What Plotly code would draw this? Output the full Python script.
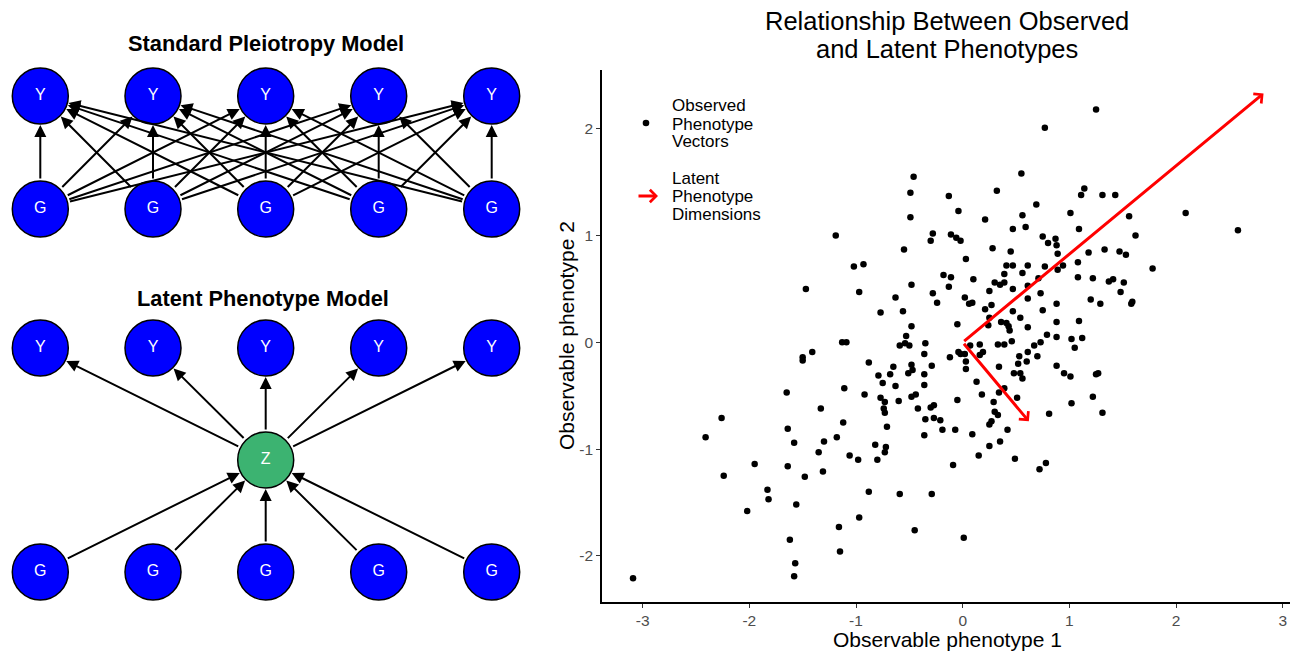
import plotly.graph_objects as go

# ---------------- data ----------------
obs_x = [
    -1.19, -0.46, -0.49, -0.49, -0.13, -0.04, 0.32, 0.55, 0.77, 0.69,
    0.56, 0.21, 0.47, 0.59, -0.28, -0.30, -0.11, -0.06, -0.02, -0.55,
    0.28, 0.45, 0.75, 0.80, 0.87, 0.88, 0.89, 1.25, 1.14, 1.11,
    1.31, 1.43, 1.01, 1.56, 2.09, 1.09, 1.62, 2.58, 1.33, 1.18,
    1.47, 1.53, -1.02, -0.93, 0.03, 0.41, 0.47, 0.61, 0.77, 0.89,
    -0.18, -0.11, 0.10, 0.39, 0.56, 0.71, 0.30, 0.39, 0.35, -0.48,
    -0.13, 0.47, 0.61, -0.97, -0.28, 0.25, -0.63, 0.02, 0.06, 0.09,
    -0.24, 0.61, 0.73, 0.27, 0.21, 0.47, 0.54, 0.75, 0.88, -0.77,
    -0.56, 0.25, 0.24, -0.05, 0.36, 0.41, 0.43, 0.44, 0.61, 0.88,
    -0.48, -0.53, 0.79, 0.88, -1.13, -1.09, -0.59, -0.54, -0.50, -0.35,
    0.07, 0.16, 0.33, 0.39, 0.46, 0.73, 0.67, -0.36, -0.04, -0.02,
    0.02, 0.19, 0.16, -0.12, 0.61, 0.53, 0.70, 0.60, 0.03, -0.88,
    -0.48, -0.29, 0.52, 0.34, 0.88, -0.65, -0.47, 0.03, -0.51, -0.68,
    -0.79, -0.36, 0.48, 0.54, 0.56, -0.75, -0.63, -0.36, 0.13, -1.11,
    0.39, 0.34, -0.92, -0.77, -0.73, -0.60, -0.48, -0.44, 0.18, 0.51,
    -0.05, 0.29, -0.74, -0.73, -0.42, -0.30, -0.27, 0.30, 0.33, 0.81,
    -1.12, -0.71, -0.35, -0.27, -0.21, 0.27, 0.25, -0.19, -0.07, 0.42,
    -1.47, -1.41, -1.50, -1.50, -1.65, -1.33, -2.26, -1.64, 0.94, 1.08,
    1.78, 1.08, 1.22, 1.37, 1.41, 1.51, 1.48, 1.20, 1.29, 1.59,
    1.58, 1.09, 1.02, 1.12, 1.05, 0.95, 1.01, 1.25, 1.27, 1.22,
    1.02, 1.31, -2.41, -1.58, -1.30, -1.35, -1.95, -1.64, -2.24, -1.48,
    -1.31, -1.83, -1.82, -1.56, -2.02, -1.62, -1.57, -1.58, -3.09, -1.18,
    -0.36, 0.09, -0.82, -0.72, -0.73, -1.06, -0.98, -0.80, -0.09, 0.15,
    0.25, 0.35, 0.49, 0.72, 0.78, -0.88, -0.59, -0.29, -0.97, -1.16,
    -0.45, 0.01, -1.15,
]
obs_y = [
    1.00, 1.55, 1.40, 1.17, 1.37, 1.23, 1.42, 1.58, 2.01, 1.29,
    1.19, 1.15, 1.06, 1.08, 1.02, 0.95, 1.01, 0.98, 0.95, 0.87,
    0.88, 0.85, 0.99, 0.93, 0.97, 0.91, 0.83, 2.18, 1.44, 1.38,
    1.38, 1.38, 1.21, 1.18, 1.21, 1.06, 1.00, 1.05, 0.87, 0.84,
    0.85, 0.82, 0.71, 0.73, 0.78, 0.72, 0.72, 0.72, 0.71, 0.68,
    0.63, 0.61, 0.59, 0.64, 0.65, 0.60, 0.56, 0.56, 0.54, 0.54,
    0.52, 0.50, 0.53, 0.47, 0.46, 0.48, 0.42, 0.42, 0.36, 0.37,
    0.37, 0.41, 0.46, 0.35, 0.31, 0.29, 0.23, 0.30, 0.36, 0.28,
    0.29, 0.23, 0.16, 0.17, 0.19, 0.18, 0.15, 0.11, 0.14, 0.19,
    0.15, 0.06, 0.07, 0.05, 0.00, 0.00, -0.03, -0.01, -0.03, -0.01,
    -0.03, -0.02, -0.02, -0.02, 0.01, 0.00, -0.03, -0.11, -0.09, -0.11,
    -0.11, -0.09, -0.12, -0.14, -0.09, -0.13, -0.13, -0.18, -0.18, -0.19,
    -0.21, -0.22, -0.20, -0.23, -0.22, -0.23, -0.26, -0.25, -0.29, -0.30,
    -0.31, -0.30, -0.29, -0.29, -0.34, -0.38, -0.41, -0.40, -0.37, -0.43,
    -0.43, -0.47, -0.49, -0.52, -0.56, -0.55, -0.51, -0.49, -0.49, -0.52,
    -0.54, -0.56, -0.62, -0.66, -0.62, -0.61, -0.59, -0.65, -0.68, -0.67,
    -0.75, -0.79, -0.72, -0.71, -0.73, -0.74, -0.77, -0.82, -0.82, -0.82,
    0.50, -0.09, -0.14, -0.17, -0.47, -0.62, -0.71, -0.81, 0.72, 0.75,
    0.69, 0.61, 0.60, 0.57, 0.59, 0.56, 0.47, 0.40, 0.36, 0.38,
    0.36, 0.20, 0.03, 0.04, -0.05, -0.29, -0.32, -0.30, -0.29, -0.51,
    -0.57, -0.66, -0.89, -0.94, -0.93, -1.03, -1.14, -1.16, -1.25, -1.26,
    -1.21, -1.38, -1.47, -1.52, -1.58, -1.85, -2.07, -2.19, -2.21, -0.89,
    -0.87, -0.86, -0.96, -0.98, -1.03, -1.06, -1.10, -1.10, -1.15, -1.06,
    -0.97, -0.93, -1.09, -1.19, -1.13, -1.40, -1.42, -1.42, -1.64, -1.73,
    -1.76, -1.83, -1.96,
]
latent_dim_x = [2.82, 0.62]
latent_dim_y = [2.33, -0.74]
x_ticks = [-3, -2, -1, 0, 1, 2, 3]
x_tick_labels = ["-3", "-2", "-1", "0", "1", "2", "3"]
y_ticks = [-2, -1, 0, 1, 2]
y_tick_labels = ["-2", "-1", "0", "1", "2"]

# diagram layout (left panel, pixel-like units)
node_cols = [40.3, 153.0, 265.7, 378.7, 491.7]
std_rows = {"Y": 96, "G": 209}
lat_rows = {"Y": 348, "G": 572}
z_node = (265.7, 460)
R = 28

FONT = "Arial, Liberation Sans, sans-serif"
W, H = 1290, 652

fig = go.Figure()

# ---------------- left: network diagrams ----------------
def node_trace(xs, ys, labels, color):
    return go.Scatter(
        x=xs, y=ys, mode="markers+text", text=labels,
        textposition="middle center",
        textfont=dict(family=FONT, size=16, color="white"),
        marker=dict(size=2 * R, color=color, line=dict(color="black", width=1.5)),
        xaxis="x2", yaxis="y2", hoverinfo="skip", showlegend=False, cliponaxis=False,
    )

def edge(x0, y0, x1, y1):
    fig.add_annotation(
        x=x1, y=y1, ax=x0, ay=y0, xref="x2", yref="y2", axref="x2", ayref="y2",
        text="", showarrow=True, arrowhead=2, arrowsize=1.2, arrowwidth=2,
        arrowcolor="black", standoff=R + 1, startstandoff=R + 1,
    )

# standard pleiotropy: every G -> every Y
for gx in node_cols:
    for yx in node_cols:
        edge(gx, std_rows["G"], yx, std_rows["Y"])
# latent model: G -> Z -> Y
for gx in node_cols:
    edge(gx, lat_rows["G"], z_node[0], z_node[1])
for yx in node_cols:
    edge(z_node[0], z_node[1], yx, lat_rows["Y"])

fig.add_trace(node_trace(node_cols, [std_rows["Y"]] * 5, ["Y"] * 5, "#0000FF"))
fig.add_trace(node_trace(node_cols, [std_rows["G"]] * 5, ["G"] * 5, "#0000FF"))
fig.add_trace(node_trace(node_cols, [lat_rows["Y"]] * 5, ["Y"] * 5, "#0000FF"))
fig.add_trace(node_trace(node_cols, [lat_rows["G"]] * 5, ["G"] * 5, "#0000FF"))
fig.add_trace(node_trace([z_node[0]], [z_node[1]], ["Z"], "#3CB371"))

fig.add_annotation(x=265.7, y=43, xref="x2", yref="y2", text="<b>Standard Pleiotropy Model</b>",
                   showarrow=False, xanchor="center", yanchor="middle",
                   font=dict(family=FONT, size=21.8, color="black"))
fig.add_annotation(x=262.5, y=298, xref="x2", yref="y2", text="<b>Latent Phenotype Model</b>",
                   showarrow=False, xanchor="center", yanchor="middle",
                   font=dict(family=FONT, size=21.8, color="black"))

# ---------------- right: scatter ----------------
fig.add_trace(go.Scatter(
    x=obs_x, y=obs_y, mode="markers",
    marker=dict(size=6.5, color="black"),
    xaxis="x", yaxis="y", showlegend=False, hoverinfo="skip",
))
for ex, ey in zip(latent_dim_x, latent_dim_y):
    fig.add_annotation(
        x=ex, y=ey, ax=0, ay=0, xref="x", yref="y", axref="x", ayref="y",
        text="", showarrow=True, arrowhead=4, arrowsize=0.8, arrowwidth=3,
        arrowcolor="#FF0000",
    )

def px(xp):
    return xp / W

def py(yp):
    return (H - yp) / H

def label(xp, yp, txt, size, anchor="center", angle=0):
    fig.add_annotation(x=px(xp), y=py(yp), xref="paper", yref="paper", text=txt,
                       showarrow=False, xanchor=anchor, yanchor="middle", textangle=angle,
                       font=dict(family=FONT, size=size, color="black"))

# title
label(947, 21, "Relationship Between Observed", 25.5)
label(947, 49, "and Latent Phenotypes", 25.5)
# axis titles
label(947, 639, "Observable phenotype 1", 21)
label(566, 336, "Observable phenotype 2", 21, angle=-90)

# legend (manual)
fig.add_shape(type="circle", xref="paper", yref="paper", xsizemode="pixel", ysizemode="pixel",
              xanchor=px(646), yanchor=py(123), x0=-3.3, x1=3.3, y0=-3.3, y1=3.3,
              fillcolor="black", line=dict(width=0))
for txt, yy in [("Observed", 106), ("Phenotype", 124), ("Vectors", 142),
                ("Latent", 178), ("Phenotype", 196), ("Dimensions", 214)]:
    label(670, yy, txt, 17, anchor="left")
fig.add_annotation(x=px(658), y=py(196), xref="paper", yref="paper", ax=-21, ay=0,
                   text="", showarrow=True, arrowhead=4, arrowsize=0.8, arrowwidth=3,
                   arrowcolor="#FF0000")

axis_common = dict(showgrid=False, zeroline=False, showline=True, linecolor="black",
                   linewidth=1.5, ticks="outside", ticklen=4, tickwidth=1.2,
                   tickcolor="#333333",
                   tickfont=dict(family=FONT, size=15.5, color="#4D4D4D"))

fig.update_layout(
    width=W, height=H,
    margin=dict(l=0, r=0, t=0, b=0),
    paper_bgcolor="white", plot_bgcolor="white",
    font=dict(family=FONT),
    showlegend=False,
    xaxis=dict(domain=[602 / W, 1.0], range=[-3.381, 3.068], tickvals=x_ticks,
               ticktext=x_tick_labels, anchor="y", **axis_common),
    yaxis=dict(domain=[50 / H, 582 / H], range=[-2.432, 2.550], tickvals=y_ticks,
               ticktext=y_tick_labels, anchor="x", **axis_common),
    xaxis2=dict(domain=[0, 540 / W], range=[0, 540], visible=False, anchor="y2"),
    yaxis2=dict(domain=[0, 1], range=[H, 0], visible=False, anchor="x2"),
)

fig.write_html(
    "out.html",
    include_plotlyjs=True,
    config={"displayModeBar": False},
    post_script="document.body.style.margin='0';document.body.style.overflow='hidden';",
)
